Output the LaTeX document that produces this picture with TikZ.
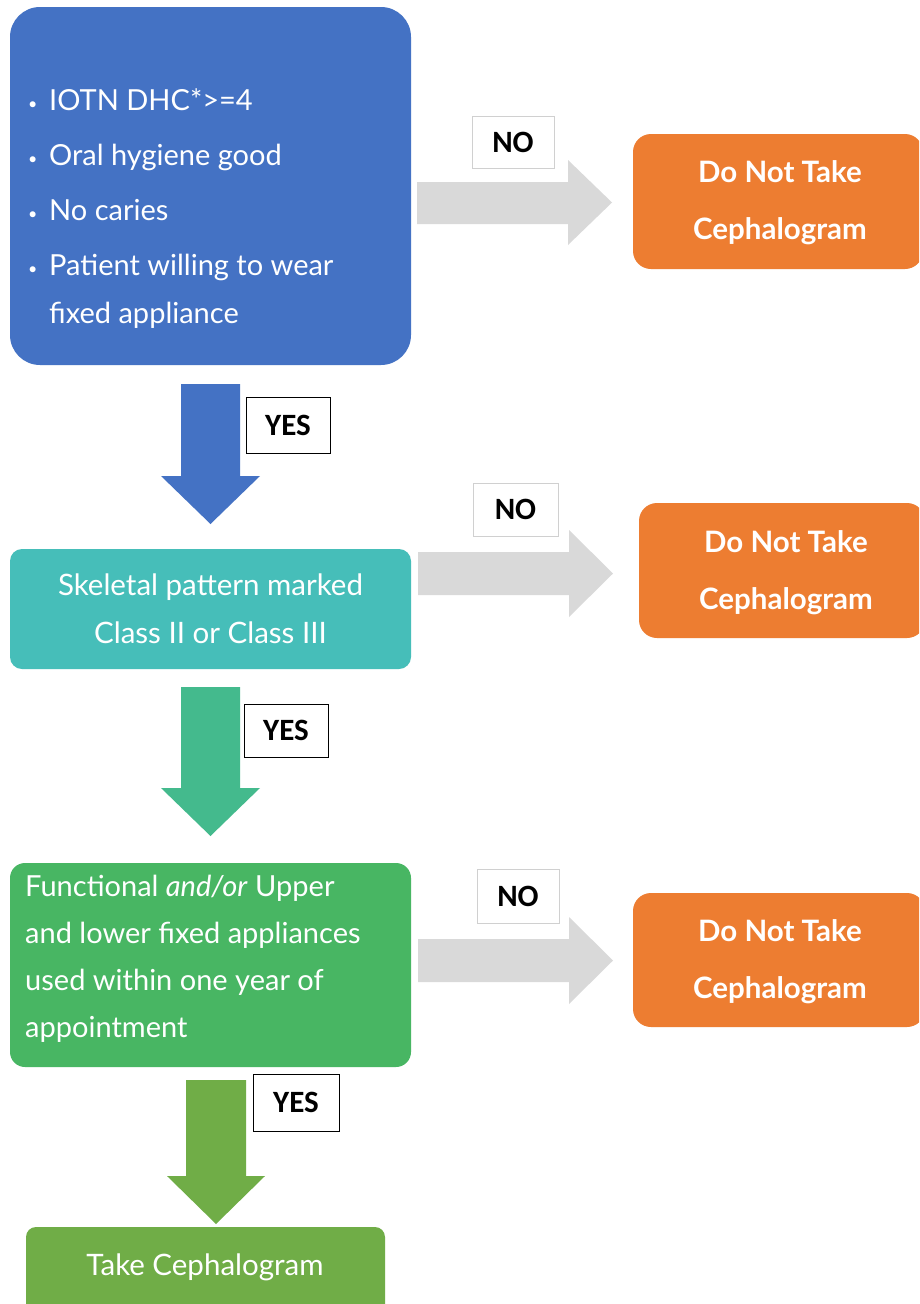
\documentclass[tikz,border=0pt]{standalone}
\usepackage{fontspec}
\setmainfont{Lato}
\newfontfamily\labfont{Carlito}
\definecolor{cblue}{HTML}{4472C4}
\definecolor{cteal}{HTML}{46BEB9}
\definecolor{ctealgreen}{HTML}{44BA8D}
\definecolor{cgreen}{HTML}{48B663}
\definecolor{cgreentwo}{HTML}{70AD47}
\definecolor{corange}{HTML}{ED7D31}
\definecolor{cgray}{HTML}{D9D9D9}
\definecolor{cgrayline}{HTML}{D0D0D0}
\newcommand{\bul}{\makebox[21pt][l]{\raisebox{1pt}{\fontsize{16}{16}\selectfont •}}}
\tikzset{
  box/.style={inner sep=0pt, text=white, align=center},
  nobox/.style={draw=cgrayline, line width=0.8pt, fill=white, inner sep=0pt, font=\labfont\bfseries\fontsize{31}{36}\selectfont},
  yesbox/.style={draw=black, line width=1pt, fill=white, inner sep=0pt, font=\labfont\bfseries\fontsize{31}{36}\selectfont},
  boxtext/.style={text=white, inner sep=0pt, align=left},
  stoptext/.style={text=white, font=\bfseries\fontsize{29.5}{57}\selectfont},
}
\begin{document}
\begin{tikzpicture}[x=1pt,y=-1pt]
\clip (0,0) rectangle (919,1304);
\fill[white] (0,0) rectangle (919,1304);

% boxes
\node[box, fill=cblue, rounded corners=30pt, minimum width=401pt, minimum height=358pt] (b1) at (210.5,186) {};
\node[boxtext, anchor=north west, font=\fontsize{29}{55.3}\selectfont] (b1t) at (28,88) {%
\bul IOTN DHC*>=4\\
\bul Oral hygiene good\\
\bul No caries\\
\bul Patient willing to wear\\[-8pt]
\hspace*{21pt}fixed appliance};

\node[box, fill=cteal, rounded corners=12pt, minimum width=401pt, minimum height=120pt, font=\fontsize{29.5}{48}\selectfont] (b2) at (210.5,609) {Skeletal pattern marked\\Class II or Class III};

\node[box, fill=cgreen, rounded corners=15pt, minimum width=401pt, minimum height=204pt] (b3) at (210.5,965) {};
\node[boxtext, anchor=north west, font=\fontsize{29}{47}\selectfont] (b3t) at (25,875) {%
Functional \textit{and/or} Upper\\
and lower fixed appliances\\
used within one year of\\
appointment};

\node[box, fill=cgreentwo, rounded corners=10pt, minimum width=359pt, minimum height=110pt] (b4) at (205.5,1282) {};
\node[text=white, inner sep=0pt, font=\fontsize{29.5}{34}\selectfont] (b4t) at (205,1267) {Take Cephalogram};

\node[box, fill=corange, rounded corners=18pt, minimum width=290pt, minimum height=135pt] (o1) at (778,201.5) {};
\node[stoptext, align=center, inner sep=0pt] (o1t) at (780,203) {Do Not Take\\Cephalogram};
\node[box, fill=corange, rounded corners=18pt, minimum width=286pt, minimum height=135pt] (o2) at (782,570.5) {};
\node[stoptext, align=center, inner sep=0pt] (o2t) at (786,573) {Do Not Take\\Cephalogram};
\node[box, fill=corange, rounded corners=18pt, minimum width=292pt, minimum height=134pt] (o3) at (779,960) {};
\node[stoptext, align=center, inner sep=0pt] (o3t) at (780,962) {Do Not Take\\Cephalogram};

% right gray arrows
\fill[cgray] (417,182) -- (568,182) -- (568,160) -- (612,202.5) -- (568,245) -- (568,224) -- (417,224) -- cycle;
\fill[cgray] (418,552) -- (569,552) -- (569,530) -- (613,573.5) -- (569,617) -- (569,595) -- (418,595) -- cycle;
\fill[cgray] (418,939) -- (569,939) -- (569,917) -- (613,960.5) -- (569,1004) -- (569,982) -- (418,982) -- cycle;

% down arrows
\fill[cblue] (181,384) -- (240,384) -- (240,476) -- (260,476) -- (210.5,524) -- (161,476) -- (181,476) -- cycle;
\fill[ctealgreen] (181,687) -- (240,687) -- (240,788) -- (260,788) -- (210.5,836) -- (161,788) -- (181,788) -- cycle;
\fill[cgreentwo] (186,1080) -- (246,1080) -- (246,1176) -- (265,1176) -- (216,1224) -- (167,1176) -- (186,1176) -- cycle;

% labels
\node[nobox, minimum width=82pt, minimum height=52pt] (n1) at (513,142) {NO};
\node[nobox, minimum width=85pt, minimum height=53pt] (n2) at (515.5,509.5) {NO};
\node[nobox, minimum width=82pt, minimum height=54pt] (n3) at (518,896) {NO};
\node[yesbox, minimum width=84pt, minimum height=56pt] (y1) at (288,425) {YES};
\node[yesbox, minimum width=84pt, minimum height=53pt] (y2) at (286,730.5) {YES};
\node[yesbox, minimum width=86pt, minimum height=57pt] (y3) at (296,1102.5) {YES};
\end{tikzpicture}
\end{document}
